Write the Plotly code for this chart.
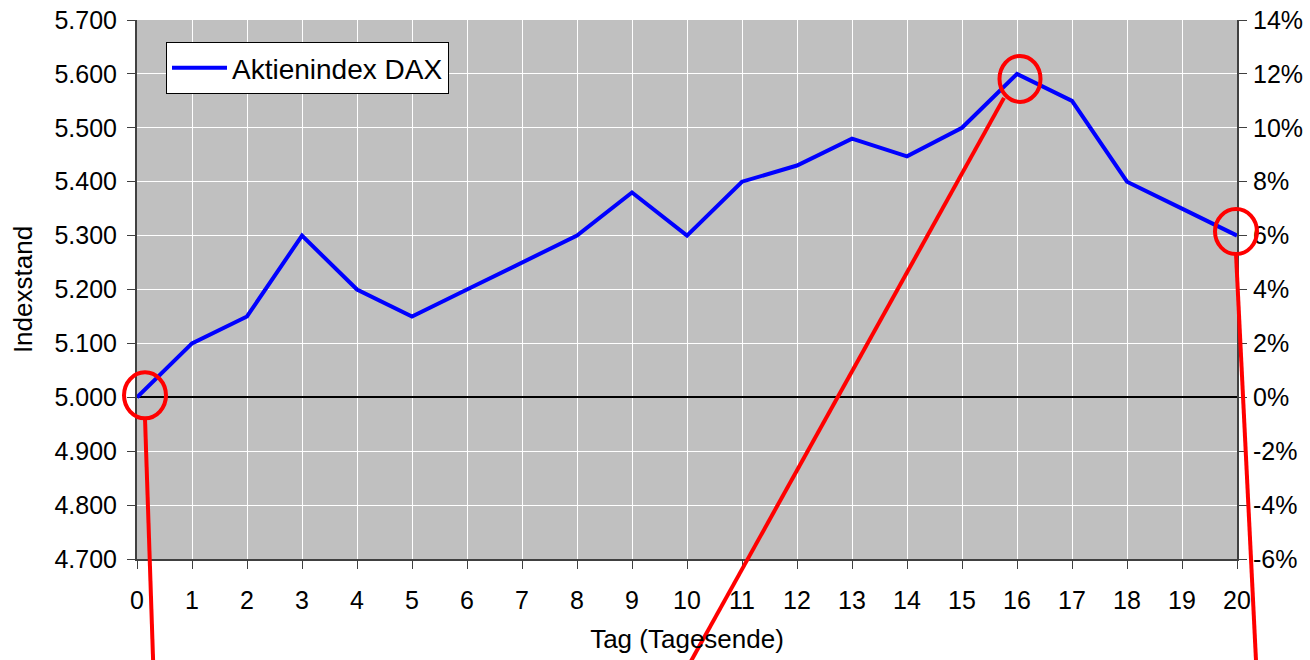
import plotly.graph_objects as go

days = list(range(21))
dax = [5000, 5100, 5150, 5300, 5200, 5150, 5200, 5250, 5300, 5380, 5300,
       5400, 5430, 5480, 5447, 5500, 5600, 5550, 5400, 5350, 5300]
base = 5000
pct = [v / base - 1 for v in dax]

series_name = "Aktienindex DAX"
x_title = "Tag (Tagesende)"
y_title = "Indexstand"

pct_ticks = [-0.06, -0.04, -0.02, 0.0, 0.02, 0.04, 0.06, 0.08, 0.10, 0.12, 0.14]
pct_labels = ["-6%", "-4%", "-2%", "0%", "2%", "4%", "6%", "8%", "10%", "12%", "14%"]

X_RANGE = [0, 20]
Y_RANGE = [4700, 5700]
Y2_RANGE = [Y_RANGE[0] / base - 1, Y_RANGE[1] / base - 1]

FIG_W, FIG_H = 1310, 660
M_L, M_R, M_T, M_B = 137, 73, 20, 101
PW, PH = FIG_W - M_L - M_R, FIG_H - M_T - M_B

FONT = "Liberation Sans, Arial, sans-serif"


def to_paper(day, value, dx=0.0, dy=0.0):
    """data point -> paper coords, plus a pixel offset (dy positive = down)"""
    px = (day - X_RANGE[0]) / (X_RANGE[1] - X_RANGE[0]) + dx / PW
    py = (value - Y_RANGE[0]) / (Y_RANGE[1] - Y_RANGE[0]) - dy / PH
    return px, py


fig = go.Figure()
fig.add_trace(go.Scatter(x=days, y=dax, mode="lines", name=series_name,
                         line=dict(color="#0000FF", width=4)))
fig.add_trace(go.Scatter(x=days, y=pct, mode="lines", yaxis="y2", showlegend=False,
                         hoverinfo="skip", line=dict(width=0, color="rgba(0,0,0,0)")))

# highlighted points: (day index, circle offset px, circle size px, line start offset, line end offset)
marks = [
    (0, (8, -2), (42, 46), (8, 21), (16.5, 275)),
    (16, (3, 5), (41, 46), (-13, 24), (-332, 598)),
    (20, (-1, -4), (42, 45), (-1, 18.4), (19.5, 435)),
]
shapes = []
for d, (cx, cy), (w, h), (sx, sy), (ex, ey) in marks:
    v = dax[d]
    x0, y0 = to_paper(d, v, cx - w / 2, cy + h / 2)
    x1, y1 = to_paper(d, v, cx + w / 2, cy - h / 2)
    shapes.append(dict(type="circle", xref="paper", yref="paper", x0=x0, y0=y0, x1=x1, y1=y1,
                       line=dict(color="#FF0000", width=4), layer="above"))
    lx0, ly0 = to_paper(d, v, sx, sy)
    lx1, ly1 = to_paper(d, v, ex, ey)
    shapes.append(dict(type="line", xref="paper", yref="paper", x0=lx0, y0=ly0, x1=lx1, y1=ly1,
                       line=dict(color="#FF0000", width=4), layer="above"))

axis_col = "#404040"
fig.update_layout(
    width=FIG_W, height=FIG_H,
    margin=dict(l=M_L, r=M_R, t=M_T, b=M_B, autoexpand=False),
    paper_bgcolor="white", plot_bgcolor="#C0C0C0",
    font=dict(family=FONT, size=25, color="black"),
    separators=",.",
    showlegend=True,
    legend=dict(x=(166 - M_L) / PW, y=1 - (42 - M_T) / PH, xanchor="left", yanchor="top",
                bgcolor="white", bordercolor="black", borderwidth=1, itemwidth=55,
                font=dict(size=28, family=FONT)),
    xaxis=dict(range=X_RANGE, dtick=1, tick0=0, showgrid=True, gridcolor="white", gridwidth=1,
               zeroline=False, showline=True, linecolor=axis_col, linewidth=2, automargin=False,
               ticks="outside", ticklen=8, tickcolor=axis_col, tickwidth=1,
               ticklabelstandoff=10, ticklabeloverflow="allow",
               title=dict(text=x_title, standoff=17, font=dict(size=26))),
    yaxis=dict(range=Y_RANGE, dtick=100, tickformat=",d", showgrid=True, gridcolor="white",
               gridwidth=1, zeroline=False, showline=True, linecolor=axis_col, linewidth=2,
               automargin=False,
               ticks="outside", ticklen=8, tickcolor=axis_col, tickwidth=1,
               ticklabelstandoff=5, ticklabeloverflow="allow",
               title=dict(text=y_title, standoff=14, font=dict(size=26))),
    yaxis2=dict(range=Y2_RANGE, tickmode="array", tickvals=pct_ticks, ticktext=pct_labels,
                overlaying="y", side="right", automargin=False,
                showgrid=False, zeroline=True, zerolinecolor="black", zerolinewidth=2,
                showline=True, linecolor=axis_col, linewidth=2,
                ticks="outside", ticklen=8, tickcolor=axis_col, tickwidth=1,
                ticklabelstandoff=1, ticklabeloverflow="allow"),
    shapes=shapes,
)

# remove the default 8px page margin so the figure fills the 1310x660 window exactly
fig.write_html("out.html", config={"displayModeBar": False},
               post_script="document.body.style.margin='0';")
